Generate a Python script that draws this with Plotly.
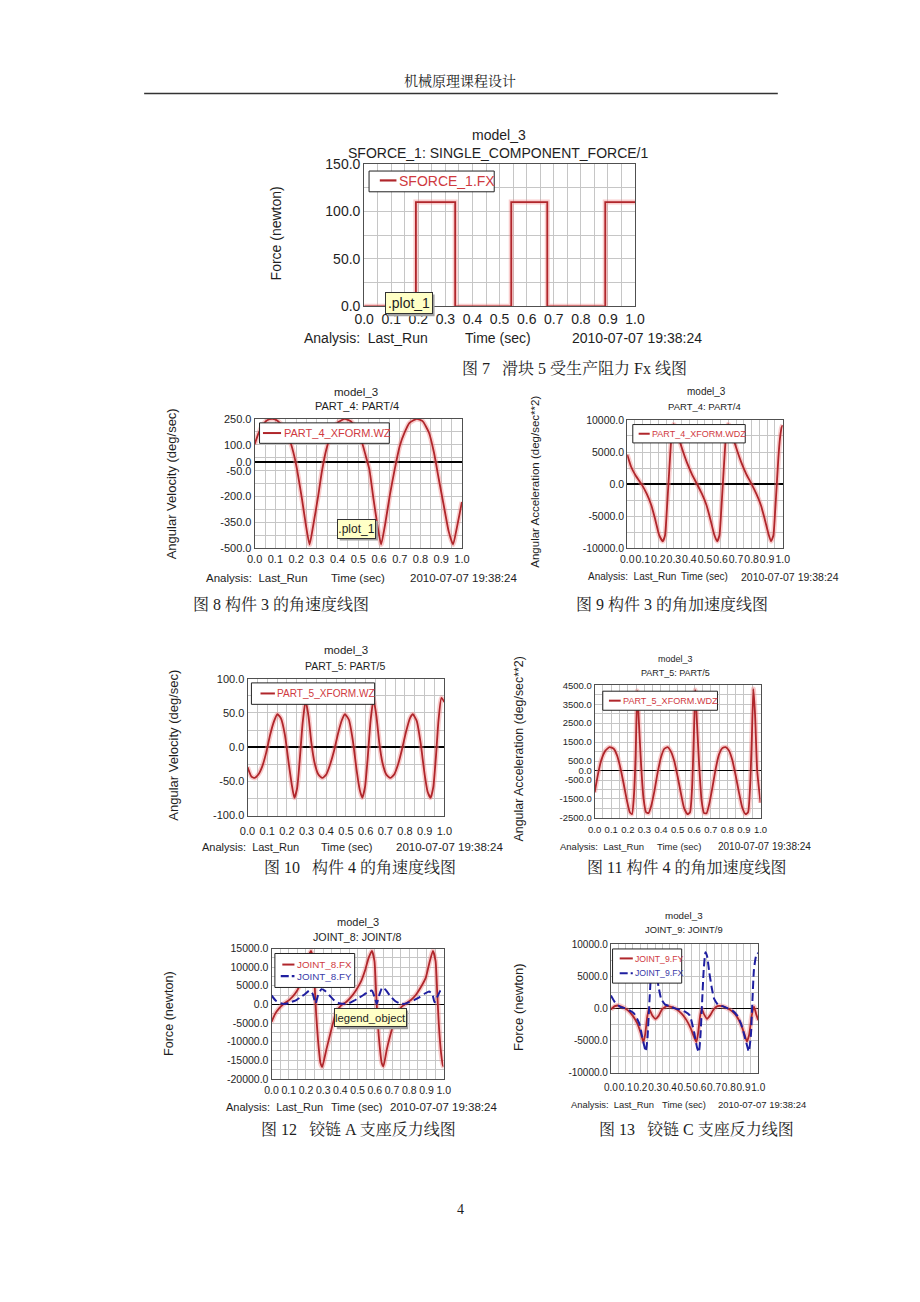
import plotly.graph_objects as go

# page (browser window) size and the default body margin of the html page
PAGE_W, PAGE_H = 920, 1302
OFF = 8
W, H = PAGE_W - 2 * OFF, PAGE_H - 2 * OFF

# ---------------- data ----------------
X_GRID = [0.0, 0.05, 0.1, 0.15, 0.2, 0.25, 0.3, 0.35, 0.4, 0.45, 0.5,
          0.55, 0.6, 0.65, 0.7, 0.75, 0.8, 0.85, 0.9, 0.95, 1.0]
X_LABELS = ["0.0", "", "0.1", "", "0.2", "", "0.3", "", "0.4", "", "0.5",
            "", "0.6", "", "0.7", "", "0.8", "", "0.9", "", "1.0"]

# Fig 7  SFORCE_1.FX
F7_T = [0.0, 0.191, 0.191, 0.336, 0.336, 0.543, 0.543, 0.676, 0.676, 0.89, 0.89, 1.0]
F7_FX = [0, 0, 110, 110, 0, 0, 110, 110, 0, 0, 110, 110]
F7_YGRID = [0, 25, 50, 75, 100, 125, 150]
F7_YLAB = ["0.0", "", "50.0", "", "100.0", "", "150.0"]

# Fig 8  PART_4_XFORM.WZ
F8_T = [0, 0.02, 0.04, 0.06, 0.086, 0.11, 0.14, 0.173, 0.19, 0.204, 0.228, 0.247, 0.265,
        0.283, 0.307, 0.325, 0.346, 0.37, 0.40, 0.435, 0.465, 0.495, 0.518, 0.535, 0.553,
        0.573, 0.592, 0.61, 0.629, 0.652, 0.676, 0.70, 0.723, 0.747, 0.782, 0.81, 0.841,
        0.865, 0.888, 0.912, 0.936, 0.957, 0.975, 1.0]
F8_WZ = [103, 170, 215, 242, 250, 240, 200, 113, 40, -40, -212, -364, -478,
         -364, -193, -50, 74, 165, 228, 250, 235, 185, 113, 40, -40,
         -212, -364, -478, -364, -193, -40, 93, 170, 227, 250, 237, 170,
         55, -97, -250, -402, -478, -383, -231]
F8_YGRID = [-500, -425, -350, -275, -200, -125, -50, 0, 25, 100, 175, 250]
F8_YLAB = ["-500.0", "", "-350.0", "", "-200.0", "", "-50.0", "0.0", "", "100.0", "", "250.0"]

# Fig 9  PART_4_XFORM.WDZ
F9_T = [0, 0.025, 0.055, 0.092, 0.125, 0.155, 0.18, 0.205, 0.228, 0.243, 0.255, 0.265,
        0.275, 0.285, 0.298, 0.31, 0.325, 0.34, 0.36, 0.385, 0.415, 0.449, 0.48, 0.51,
        0.535, 0.56, 0.578, 0.593, 0.605, 0.615, 0.625, 0.635, 0.648, 0.66, 0.675, 0.69,
        0.71, 0.735, 0.765, 0.80, 0.83, 0.86, 0.885, 0.91, 0.925, 0.94, 0.952, 0.962,
        0.972, 0.982, 0.993, 1.0]
F9_WDZ = [4600, 2700, 1300, 0, -1500, -3300, -5500, -7900, -8900, -8000, -4000, 0,
          4000, 7500, 9300, 9000, 7800, 6500, 5000, 3300, 1600, 0, -1500, -3300,
          -5500, -7900, -8900, -8000, -4000, 0, 4000, 7500, 9300, 9000, 7800, 6500,
          5000, 3300, 1600, 0, -1500, -3300, -5500, -7900, -8900, -8000, -4000, 0,
          4000, 7000, 8800, 9200]
F9_YGRID = [-10000, -7500, -5000, -2500, 0, 2500, 5000, 7500, 10000]
F9_YLAB = ["-10000.0", "", "-5000.0", "", "0.0", "", "5000.0", "", "10000.0"]

# Fig 10  PART_5_XFORM.WZ
F10_T = [0, 0.02, 0.036, 0.055, 0.075, 0.095, 0.115, 0.135, 0.152, 0.17, 0.19, 0.21,
         0.225, 0.238, 0.252, 0.265, 0.28, 0.295, 0.31, 0.325, 0.34, 0.36, 0.38, 0.40,
         0.42, 0.44, 0.46, 0.48, 0.495, 0.515, 0.535, 0.555, 0.57, 0.583, 0.597, 0.61,
         0.625, 0.64, 0.655, 0.67, 0.685, 0.705, 0.725, 0.745, 0.765, 0.785, 0.805,
         0.825, 0.84, 0.86, 0.88, 0.90, 0.915, 0.93, 0.944, 0.957, 0.97, 0.985, 1.0]
F10_WZ = [-29, -43, -45, -40, -28, -8, 18, 38, 48, 42, 18, -25,
          -55, -74, -60, -20, 35, 68, 45, 5, -22, -40, -45, -40,
          -25, -5, 20, 40, 48, 40, 10, -35, -62, -74, -58, -18,
          38, 70, 45, 5, -22, -40, -45, -40, -25, -3, 22,
          42, 48, 38, 5, -40, -65, -74, -58, -15, 38, 72, 66]
F10_YGRID = [-100, -75, -50, -25, 0, 25, 50, 75, 100]
F10_YLAB = ["-100.0", "", "-50.0", "", "0.0", "", "50.0", "", "100.0"]

# Fig 11  PART_5_XFORM.WDZ
F11_T = [0, 0.02, 0.04, 0.065, 0.09, 0.115, 0.135, 0.155, 0.175, 0.195, 0.212, 0.225,
         0.237, 0.247, 0.257, 0.267, 0.28, 0.295, 0.31, 0.325, 0.34, 0.36, 0.38, 0.40,
         0.42, 0.44, 0.46, 0.48, 0.50, 0.52, 0.54, 0.56, 0.575, 0.587, 0.597, 0.607,
         0.617, 0.63, 0.645, 0.66, 0.675, 0.69, 0.71, 0.73, 0.75, 0.77, 0.79, 0.81,
         0.83, 0.85, 0.87, 0.89, 0.91, 0.925, 0.937, 0.947, 0.957, 0.967, 0.98, 1.0]
F11_WDZ = [-1150, -200, 550, 1050, 1234, 1150, 800, 150, -700, -1600, -2200, -2300,
           -1300, 800, 4200, 2500, 300, -1500, -2200, -2250, -1900, -1100, -100, 700,
           1150, 1234, 1000, 500, -300, -1200, -2000, -2300, -2200, -1000, 1500, 4250,
           2500, 300, -1600, -2250, -2250, -1800, -900, 100, 850, 1180, 1234, 1050,
           550, -250, -1150, -1950, -2300, -2200, -900, 1500, 4300, 3000, 0, -1700]
F11_YGRID = [-2500, -2000, -1500, -1000, -500, 0, 500, 1000, 1500, 2000, 2500, 3000,
             3500, 4000, 4500]
F11_YLAB = ["-2500.0", "", "-1500.0", "", "-500.0", "0.0", "500.0", "", "1500.0", "",
            "2500.0", "", "3500.0", "", "4500.0"]

# Fig 12  JOINT_8.FX / JOINT_8.FY
F12_T_FX = [0, 0.02, 0.045, 0.075, 0.105, 0.135, 0.163, 0.19, 0.21, 0.229, 0.243, 0.251,
            0.259, 0.27, 0.284, 0.294, 0.318, 0.337, 0.356, 0.375, 0.403, 0.432, 0.46,
            0.489, 0.517, 0.545, 0.564, 0.583, 0.598, 0.606, 0.614, 0.625, 0.64, 0.65,
            0.669, 0.6875, 0.706, 0.725, 0.754, 0.782, 0.81, 0.839, 0.867, 0.896, 0.915,
            0.9375, 0.953, 0.962, 0.9716, 0.985, 0.996, 1.0]
F12_FX = [-4700, -2600, -1000, 300, 1300, 2800, 5000, 8800, 12300, 14400, 11600, 4600,
          -2500, -9600, -15700, -16800, -12200, -8700, -5200, -2100, -300, 600, 1900,
          3700, 5900, 9400, 12500, 14400, 11600, 4600, -2500, -9600, -15700, -16600,
          -12200, -8700, -5600, -2900, -700, 300, 1200, 2600, 4600, 7200, 10800,
          14400, 11600, 3700, -5200, -13100, -16500, -16500]
F12_T_FY = [0, 0.025, 0.053, 0.08, 0.11, 0.138, 0.167, 0.195, 0.22, 0.239, 0.256, 0.27,
            0.29, 0.309, 0.337, 0.366, 0.394, 0.422, 0.45, 0.479, 0.508, 0.536, 0.564,
            0.583, 0.602, 0.611, 0.625, 0.644, 0.663, 0.6875, 0.716, 0.744, 0.773, 0.80,
            0.83, 0.858, 0.886, 0.915, 0.934, 0.947, 0.962, 0.981, 1.0]
F12_FY = [2400, 1000, 300, 150, 600, 1000, 1900, 2800, 3700, 2800, 300, 2400,
          4100, 3700, 2400, 1000, 300, 150, 300, 1000, 1800, 2600, 3500,
          3700, 1500, 150, 2400, 4600, 3900, 2400, 1000, 300, 150, 600,
          1200, 1900, 2800, 3500, 2800, 600, 1900, 3700, 4100]
F12_YGRID = [-20000, -17500, -15000, -12500, -10000, -7500, -5000, -2500, 0, 2500,
             5000, 7500, 10000, 12500, 15000]
F12_YLAB = ["-20000.0", "", "-15000.0", "", "-10000.0", "", "-5000.0", "", "0.0", "",
            "5000.0", "", "10000.0", "", "15000.0"]

# Fig 13  JOINT_9.FY / JOINT_9.FX
F13_T_FY = [0, 0.027, 0.049, 0.082, 0.115, 0.148, 0.181, 0.204, 0.221, 0.232, 0.248,
            0.259, 0.281, 0.303, 0.325, 0.347, 0.38, 0.414, 0.447, 0.48, 0.513, 0.542,
            0.564, 0.58, 0.59, 0.606, 0.617, 0.63, 0.653, 0.675, 0.697, 0.723, 0.757,
            0.79, 0.823, 0.856, 0.883, 0.905, 0.923, 0.938, 0.956, 0.971, 0.985, 1.0]
F13_FY = [-150, 360, 460, 200, -300, -1100, -2400, -3900, -5200, -4100, -1100,
          -50, -1100, -1600, -1100, -150, 360, 200, -150, -800, -1800, -3100,
          -4400, -5200, -4100, -1100, -50, -800, -1600, -1000, -150, 360, 360,
          50, -450, -1300, -2500, -3900, -5100, -4100, -1100, 300, -800, -1800]
F13_T_FX = [0, 0.027, 0.06, 0.093, 0.126, 0.159, 0.193, 0.21, 0.225, 0.237, 0.248,
            0.259, 0.27, 0.282, 0.293, 0.308, 0.324, 0.341, 0.368, 0.40, 0.43, 0.47,
            0.50, 0.535, 0.564, 0.586, 0.597, 0.608, 0.619, 0.63, 0.642, 0.653, 0.668,
            0.684, 0.701, 0.728, 0.757, 0.79, 0.823, 0.856, 0.883, 0.905, 0.923, 0.936,
            0.95, 0.96, 0.971, 0.985, 1.0]
F13_FX = [2000, 970, 300, 50, -300, -820, -2350, -4130, -5660, -6680, -4640,
          0, 4540, 8400, 7900, 5500, 3300, 1500, 600, 350, 50, -200,
          -460, -1070, -3620, -6170, -6790, -4130, 970, 6070, 8720, 8110, 5560,
          3270, 1480, 560, 360, 50, -300, -1070, -2350, -4130, -5660, -6680,
          -4130, 970, 6070, 8110, 8620]
F13_YGRID = [-10000, -7500, -5000, -2500, 0, 2500, 5000, 7500, 10000]
F13_YLAB = ["-10000.0", "", "-5000.0", "", "0.0", "", "5000.0", "", "10000.0"]

# ---------------- styling ----------------
FONT = "Liberation Sans, Arial, sans-serif"
SERIF = "Liberation Serif, Noto Serif CJK SC, Noto Sans CJK SC, serif"
TXT = "#1e1e1e"
RED = "#b0262b"
RED_TXT = "#cf3a3f"
HALO = "rgba(240,135,135,0.42)"
BLUE = "#1f1fa0"
BLUE_TXT = "#3a3aa8"
GRID = "#c6c6c6"
FRAME = "#505050"
NB = "\u00a0"


def px(x):
    return (x - OFF) / W


def py(y):
    return 1 - (y - OFF) / H


fig = go.Figure()
layout = dict(width=W, height=H, margin=dict(l=0, r=0, t=0, b=0),
              paper_bgcolor="white", plot_bgcolor="white", showlegend=False)
annotations = []
shapes = []


def ann(text, x, y, size, anchor="center", color=TXT, family=FONT, angle=0):
    annotations.append(dict(text=text, x=px(x), y=py(y), xref="paper", yref="paper",
                            xanchor=anchor, yanchor="middle", showarrow=False,
                            textangle=angle, font=dict(family=family, size=size, color=color)))


def rect(x0, x1, y0, y1, fill="white", line="#222", lw=1):
    shapes.append(dict(type="rect", xref="paper", yref="paper", x0=px(x0), x1=px(x1),
                       y0=py(y1), y1=py(y0), fillcolor=fill, line=dict(color=line, width=lw)))


def seg(x0, x1, y, color, lw=2, dash="solid"):
    shapes.append(dict(type="line", xref="paper", yref="paper", x0=px(x0), x1=px(x1),
                       y0=py(y), y1=py(y), line=dict(color=color, width=lw, dash=dash)))


def tooltip(text, x0, x1, y0, y1, size):
    rect(x0 + 2, x1 + 2, y0 + 2, y1 + 2, fill="#a0a0a0", line="#a0a0a0", lw=0)
    annotations.append(dict(text=text, x=px((x0 + x1) / 2), y=py((y0 + y1) / 2),
                            xref="paper", yref="paper", xanchor="center", yanchor="middle",
                            showarrow=False, bgcolor="#ffffc6", bordercolor="#333",
                            borderwidth=1, borderpad=0, width=x1 - x0 - 2, height=y1 - y0 - 2,
                            font=dict(family=FONT, size=size, color=TXT)))


def panel(n, box, yr, ygrid, ylab, tsize, ystand, xstand, zero=True):
    sfx = "" if n == 1 else str(n)
    x0, x1, y0, y1 = box
    layout["xaxis" + sfx] = dict(
        domain=[px(x0), px(x1)], range=[0, 1], anchor="y" + sfx,
        tickmode="array", tickvals=X_GRID, ticktext=X_LABELS, tickangle=0,
        showgrid=True, gridcolor=GRID, gridwidth=1, zeroline=False,
        showline=True, linecolor=FRAME, linewidth=1, mirror=True, ticks="",
        ticklabelstandoff=xstand, fixedrange=True,
        tickfont=dict(family=FONT, size=tsize, color=TXT))
    layout["yaxis" + sfx] = dict(
        domain=[py(y1), py(y0)], range=yr, anchor="x" + sfx,
        tickmode="array", tickvals=ygrid, ticktext=ylab,
        showgrid=True, gridcolor=GRID, gridwidth=1,
        zeroline=zero, zerolinecolor="#000000", zerolinewidth=1.3,
        showline=True, linecolor=FRAME, linewidth=1, mirror=True, ticks="",
        ticklabelstandoff=ystand, fixedrange=True,
        tickfont=dict(family=FONT, size=tsize, color=TXT))
    return "x" + sfx, "y" + sfx


def red_line(t, v, xa, ya, name, shape="spline"):
    fig.add_trace(go.Scatter(x=t, y=v, xaxis=xa, yaxis=ya, mode="lines", hoverinfo="skip",
                             line=dict(color=HALO, width=5, shape=shape, smoothing=0.5)))
    fig.add_trace(go.Scatter(x=t, y=v, xaxis=xa, yaxis=ya, mode="lines", name=name,
                             line=dict(color=RED, width=1.8, shape=shape, smoothing=0.5)))


def blue_line(t, v, xa, ya, name):
    fig.add_trace(go.Scatter(x=t, y=v, xaxis=xa, yaxis=ya, mode="lines", name=name,
                             line=dict(color=BLUE, width=2, dash="8px,4px",
                                       shape="spline", smoothing=0.5)))


def texts(cx, ty1, ty2, t2, s1, s2, ylx, yly, ylab, ysz, by, bl, bc, bd, bs, ds):
    ann("model_3", cx[0], ty1, s1)
    ann(t2, cx[1], ty2, s2)
    ann(ylab, ylx, yly, ysz, angle=-90)
    ann("Analysis:" + NB + NB + "Last_Run", bl, by, bs, anchor="left")
    ann("Time (sec)", bc, by, bs)
    ann("2010-07-07 19:38:24", bd, by, ds, anchor="left")


# ---- Fig 7 ----
xa, ya = panel(1, (362, 639, 158, 302), [0, 150], F7_YGRID, F7_YLAB, 14, 0, 0, zero=False)
red_line(F7_T, F7_FX, xa, ya, "SFORCE_1.FX", shape="linear")
texts((500, 499), 129, 146.7, "SFORCE_1: SINGLE_COMPONENT_FORCE/1", 14, 14,
      272, 228, "Force (newton)", 14, 334.3, 298.3, 499.3, 572, 14, 14)
rect(367, 495, 165, 186)
seg(378, 395, 174.5, RED, 2.2)
ann("SFORCE_1.FX", 396, 175, 14, anchor="left", color=RED_TXT)
tooltip(".plot_1", 384, 432, 288, 310, 14)

# ---- Fig 8 ----
xa, ya = panel(2, (250, 462, 416, 547), [-500, 250], F8_YGRID, F8_YLAB, 11, 0, 1)
red_line(F8_T, F8_WZ, xa, ya, "PART_4_XFORM.WZ")
texts((353.3, 355), 388.3, 403.3, "PART_4: PART/4", 11.5, 11,
      165, 481.7, "Angular Velocity (deg/sec)", 13, 576.7, 198.3, 355.7, 407.3, 11.5, 11.5)
rect(255, 387.7, 420, 440.7)
seg(258.5, 277, 430.3, RED, 2)
ann("PART_4_XFORM.WZ", 277.5, 430.5, 11, anchor="left", color=RED_TXT)
tooltip(".plot_1", 335, 374, 517, 537, 12)

# ---- Fig 9 ----
xa, ya = panel(3, (631, 790, 417, 547), [-10000, 10000], F9_YGRID, F9_YLAB, 10.5, 0, 1)
red_line(F9_T, F9_WDZ, xa, ya, "PART_4_XFORM.WDZ")
texts((711.7, 710), 388, 403, "PART_4: PART/4", 10, 9.5,
      537.3, 480, "Angular Acceleration (deg/sec**2)", 11.5, 575.7, 589.3, 710.5, 745, 10, 10.5)
rect(636.7, 751.7, 421.7, 440.3)
seg(642.7, 654, 431, RED, 2)
ann("PART_4_XFORM.WDZ", 654.5, 431.2, 9.0, anchor="left", color=RED_TXT)

# ---- Fig 10 ----
xa, ya = panel(4, (242.7, 444, 679, 817.7), [-100, 100], F10_YGRID, F10_YLAB, 11, 0, 5)
red_line(F10_T, F10_WZ, xa, ya, "PART_5_XFORM.WZ")
texts((343.3, 343.3), 650, 666, "PART_5: PART/5", 11.5, 10.5,
      166.7, 746.7, "Angular Velocity (deg/sec)", 13, 849.3, 194, 344, 392.7, 11, 11.5)
rect(246.7, 372.7, 683.3, 705)
seg(256, 270.7, 694, RED, 2)
ann("PART_5_XFORM.WZ", 271, 694.2, 10.1, anchor="left", color=RED_TXT)

# ---- Fig 11 ----
xa, ya = panel(5, (597.7, 767.3, 685.7, 820), [-2500, 4500], F11_YGRID, F11_YLAB, 9.5, 0, 3)
red_line(F11_T, F11_WDZ, xa, ya, "PART_5_XFORM.WDZ")
texts((680.7, 680.7), 659, 673.3, "PART_5: PART/5", 9, 9,
      520, 750, "Angular Acceleration (deg/sec**2)", 12.4, 849.3, 560, 684.3, 721.7, 9.5, 10)
rect(606, 723.3, 691.7, 711)
seg(612.3, 624.3, 701.3, RED, 2)
ann("PART_5_XFORM.WDZ", 624.5, 701.5, 9.1, anchor="left", color=RED_TXT)

# ---- Fig 12 ----
xa, ya = panel(6, (267.3, 443.3, 952.3, 1084.3), [-20000, 15000], F12_YGRID, F12_YLAB, 10.5, 0, 1)
red_line(F12_T_FX, F12_FX, xa, ya, "JOINT_8.FX")
blue_line(F12_T_FY, F12_FY, xa, ya, "JOINT_8.FY")
texts((355.7, 355), 925, 940.7, "JOINT_8: JOINT/8", 11, 10.7,
      161.7, 1018.3, "Force (newton)", 12.6, 1112.7, 218.3, 355, 386.7, 11, 11.5)
rect(270.7, 352.3, 957.3, 991.7)
seg(278.3, 290.7, 968.5, RED, 2)
ann("JOINT_8.FX", 291, 968.7, 9.8, anchor="left", color=RED_TXT)
seg(276.7, 290.7, 980.3, BLUE, 2.2, dash="8px,3px")
ann("JOINT_8.FY", 291, 980.5, 9.8, anchor="left", color=BLUE_TXT)
tooltip("legend_object", 332, 405, 1013, 1032, 11.3)

# ---- Fig 13 ----
xa, ya = panel(7, (614.3, 765, 947.7, 1078.3), [-10000, 10000], F13_YGRID, F13_YLAB, 10, 0, 5)
red_line(F13_T_FY, F13_FY, xa, ya, "JOINT_9.FY")
blue_line(F13_T_FX, F13_FX, xa, ya, "JOINT_9.FX")
texts((689.3, 689.3), 919, 933.3, "JOINT_9: JOINT/9", 9.8, 9.4,
      520, 1011.7, "Force (newton)", 13, 1110, 571, 689.3, 721.7, 9.4, 9.5)
rect(616, 686.7, 952.7, 987.3)
seg(623.3, 636.7, 962.3, RED, 2)
ann("JOINT_9.FY", 637, 962.5, 8.7, anchor="left", color=RED_TXT)
seg(623.3, 636.7, 977.3, BLUE, 2.2, dash="8px,3px")
ann("JOINT_9.FX", 637, 977.5, 8.7, anchor="left", color=BLUE_TXT)

# ---- page text ----
ann("机械原理课程设计", 460, 74, 14, family=SERIF)
seg(137, 785, 86.5, "#333333", 1.6)
ann("图 7" + NB * 3 + "滑块 5 受生产阻力 Fx 线图", 577, 365, 16, family=SERIF)
ann("图 8 构件 3 的角速度线图", 277, 604, 16, family=SERIF)
ann("图 9 构件 3 的角加速度线图", 676.5, 604, 16, family=SERIF)
ann("图 10" + NB * 3 + "构件 4 的角速度线图", 357.5, 870, 16, family=SERIF)
ann("图 11 构件 4 的角加速度线图", 691.5, 870, 16, family=SERIF)
ann("图 12" + NB * 3 + "铰链 A 支座反力线图", 356, 1136, 16, family=SERIF)
ann("图 13" + NB * 3 + "铰链 C 支座反力线图", 702, 1136, 16, family=SERIF)
ann("4", 460, 1217, 14, family=SERIF)

layout["annotations"] = annotations
layout["shapes"] = shapes
fig.update_layout(**layout)

fig.write_html("out.html", include_plotlyjs=True, full_html=True,
               config={"displayModeBar": False, "staticPlot": True})
